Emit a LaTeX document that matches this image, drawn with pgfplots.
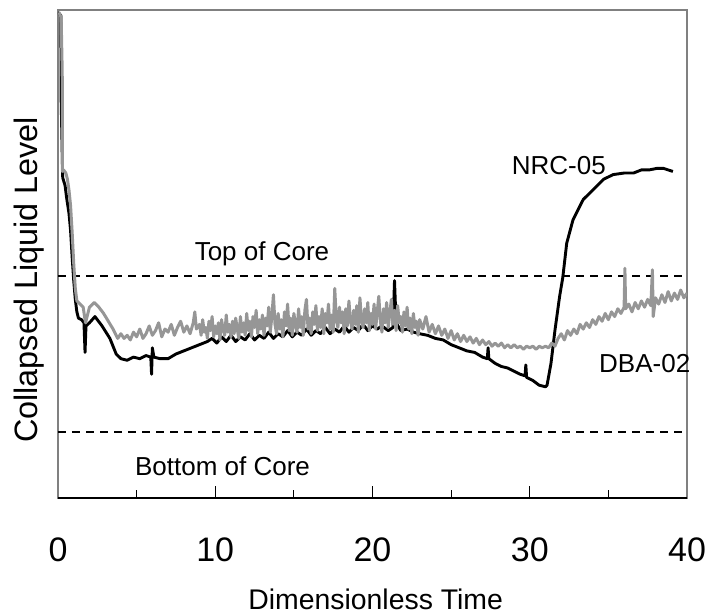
\documentclass[border=0pt]{standalone}
\usepackage{fontspec}
\setmainfont{Liberation Sans}
\usepackage{pgfplots}
\usepackage{pgfplotstable}
\pgfplotsset{compat=1.18}
\definecolor{dbagray}{RGB}{150,150,150}
\definecolor{framegray}{RGB}{128,128,128}

\pgfplotstableread{
t L
0.0 2.69
0.18 2.67
0.2 2.13
0.3 1.63
0.45 1.58
0.55 1.50
0.7 1.40
0.8 1.29
0.9 1.12
1.0 0.97
1.1 0.85
1.2 0.77
1.3 0.73
1.5 0.72
1.65 0.70
1.72 0.51
1.78 0.68
2.0 0.70
2.35 0.74
2.8 0.68
3.3 0.60
3.7 0.50
4.0 0.47
4.4 0.46
4.8 0.48
5.2 0.47
5.6 0.49
5.9 0.48
5.95 0.37
6.0 0.54
6.1 0.48
6.5 0.47
7.0 0.47
7.5 0.50
8.0 0.52
8.5 0.54
9.0 0.56
9.5 0.58
9.8 0.60
10.1 0.57
10.4 0.61
10.7 0.58
11.0 0.62
11.3 0.58
11.6 0.61
11.9 0.59
12.2 0.63
12.5 0.59
12.8 0.62
13.1 0.60
13.4 0.64
13.7 0.60
14.0 0.63
14.3 0.61
14.6 0.65
14.9 0.61
15.2 0.64
15.5 0.62
15.8 0.66
16.1 0.62
16.4 0.65
16.7 0.63
17.0 0.67
17.3 0.63
17.6 0.66
17.9 0.64
18.2 0.68
18.5 0.64
18.8 0.67
19.1 0.65
19.4 0.69
19.7 0.65
20.0 0.68
20.3 0.66
20.6 0.68
21.0 0.65
21.3 0.67
21.4 0.97
21.5 0.70
21.8 0.65
22.2 0.66
22.6 0.64
23.0 0.63
23.5 0.62
24.0 0.60
24.5 0.59
25.0 0.56
25.5 0.54
26.0 0.52
26.5 0.51
27.0 0.48
27.3 0.47
27.35 0.54
27.4 0.47
27.8 0.44
28.2 0.42
28.6 0.41
29.0 0.39
29.4 0.37
29.7 0.36
29.75 0.43
29.8 0.35
30.2 0.33
30.6 0.30
31.0 0.29
31.1 0.30
31.35 0.44
31.6 0.65
31.9 0.87
32.1 0.99
32.35 1.21
32.75 1.36
33.4 1.49
34.0 1.55
34.7 1.62
35.3 1.65
36.0 1.66
36.6 1.66
37.1 1.68
37.6 1.68
38.1 1.69
38.5 1.69
38.8 1.68
39.1 1.67
}\nrc

\pgfplotstableread{
t L
0.05 2.69
0.2 2.66
0.27 2.30
0.28 1.67
0.35 1.68
0.5 1.66
0.6 1.62
0.7 1.55
0.8 1.45
0.9 1.28
1.0 1.08
1.1 0.92
1.2 0.84
1.4 0.82
1.6 0.80
1.75 0.70
1.85 0.74
2.0 0.80
2.3 0.83
2.6 0.80
2.9 0.76
3.2 0.71
3.5 0.66
3.8 0.60
4.0 0.63
4.2 0.60
4.4 0.62
4.6 0.59
4.8 0.64
5.0 0.61
5.2 0.66
5.4 0.60
5.6 0.63
5.8 0.68
6.0 0.62
6.2 0.65
6.4 0.70
6.6 0.61
6.8 0.66
7.0 0.64
7.2 0.69
7.4 0.62
7.6 0.67
7.8 0.71
8.0 0.64
8.2 0.68
8.4 0.63
8.6 0.70
8.7 0.77
8.8 0.66
9.0 0.69
9.1 0.62
9.2 0.72
9.3 0.64
9.4 0.67
9.5 0.60
9.6 0.71
9.7 0.65
9.8 0.74
9.9 0.61
10.0 0.68
10.1 0.63
10.2 0.70
10.3 0.59
10.4 0.72
10.5 0.66
10.6 0.62
10.7 0.75
10.8 0.64
10.9 0.69
11.0 0.61
11.1 0.71
11.2 0.63
11.3 0.73
11.4 0.66
11.5 0.60
11.6 0.74
11.7 0.64
11.8 0.70
11.9 0.62
12.0 0.76
12.1 0.65
12.2 0.71
12.3 0.61
12.4 0.74
12.5 0.67
12.6 0.78
12.7 0.63
12.8 0.72
12.9 0.66
13.0 0.75
13.1 0.62
13.2 0.73
13.3 0.68
13.4 0.80
13.5 0.64
13.6 0.74
13.7 0.88
13.8 0.69
13.9 0.63
14.0 0.76
14.1 0.66
14.2 0.72
14.3 0.61
14.4 0.77
14.5 0.68
14.6 0.82
14.7 0.65
14.8 0.73
14.9 0.62
15.0 0.76
15.1 0.69
15.2 0.64
15.3 0.79
15.4 0.67
15.5 0.74
15.6 0.62
15.7 0.78
15.8 0.85
15.9 0.66
16.0 0.73
16.1 0.63
16.2 0.77
16.3 0.69
16.4 0.81
16.5 0.65
16.6 0.74
16.7 0.67
16.8 0.79
16.9 0.63
17.0 0.76
17.1 0.70
17.2 0.82
17.3 0.66
17.4 0.75
17.5 0.64
17.6 0.92
17.7 0.72
17.8 0.67
17.9 0.80
18.0 0.70
18.1 0.77
18.2 0.63
18.3 0.79
18.4 0.68
18.5 0.84
18.6 0.71
18.7 0.66
18.8 0.78
18.9 0.69
19.0 0.81
19.1 0.64
19.2 0.86
19.3 0.72
19.4 0.67
19.5 0.79
19.6 0.70
19.7 0.83
19.8 0.65
19.9 0.76
20.0 0.69
20.1 0.82
20.2 0.66
20.3 0.77
20.4 0.87
20.5 0.71
20.6 0.64
20.7 0.79
20.8 0.70
20.9 0.83
21.0 0.67
21.1 0.76
21.2 0.85
21.3 0.69
21.4 0.78
21.5 0.65
21.6 0.81
21.7 0.70
21.8 0.74
21.9 0.64
22.0 0.77
22.1 0.68
22.2 0.80
22.3 0.66
22.4 0.73
22.5 0.63
22.6 0.76
22.7 0.67
22.8 0.71
22.9 0.62
23.0 0.72
23.2 0.66
23.4 0.74
23.6 0.64
23.8 0.69
24.0 0.63
24.2 0.68
24.4 0.62
24.6 0.66
24.8 0.60
25.0 0.65
25.2 0.59
25.4 0.63
25.6 0.58
25.8 0.62
26.0 0.58
26.2 0.61
26.4 0.57
26.6 0.60
26.8 0.56
27.0 0.59
27.2 0.56
27.4 0.58
27.6 0.55
27.8 0.57
28.0 0.55
28.2 0.57
28.4 0.54
28.6 0.56
28.8 0.54
29.0 0.56
29.2 0.54
29.4 0.55
29.6 0.53
29.8 0.55
30.0 0.54
30.2 0.55
30.4 0.53
30.6 0.55
30.8 0.54
31.0 0.55
31.2 0.54
31.4 0.57
31.6 0.55
31.8 0.60
32.0 0.63
32.2 0.59
32.4 0.65
32.6 0.62
32.8 0.66
33.0 0.63
33.2 0.69
33.4 0.66
33.6 0.70
33.8 0.67
34.0 0.72
34.2 0.69
34.4 0.74
34.6 0.71
34.8 0.76
35.0 0.72
35.2 0.77
35.4 0.74
35.6 0.79
35.8 0.76
36.0 0.80
36.05 1.05
36.1 0.79
36.3 0.82
36.5 0.77
36.7 0.83
36.9 0.79
37.1 0.84
37.3 0.80
37.5 0.85
37.7 0.81
37.8 1.04
37.85 0.74
38.0 0.86
38.2 0.82
38.4 0.88
38.6 0.83
38.8 0.90
39.0 0.84
39.2 0.89
39.4 0.85
39.6 0.91
39.8 0.86
40.0 0.89
}\dba

\begin{document}
\begin{tikzpicture}
\begin{axis}[
  scale only axis,
  width=314.5pt, height=244pt,
  xmin=0, xmax=40, ymin=-0.423, ymax=2.705,
  xtick={0,10,20,30,40},
  minor xtick={5,15,25,35},
  ytick=\empty,
  xtick pos=left,
  tick align=inside,
  major tick length=6pt,
  minor tick length=4pt,
  every tick/.style={black, line width=0.6pt},
  axis line style={draw=framegray, line width=1.1pt},
  /pgf/number format/assume math mode=true,
  xticklabel style={font=\fontsize{17}{17}\selectfont, anchor=center, yshift=-26pt, inner sep=0pt},
  xlabel={Dimensionless Time},
  xlabel style={at={(axis description cs:0.505,0)}, anchor=center, yshift=-50.5pt, font=\fontsize{14.2}{14.2}\selectfont, inner sep=0pt},
  ylabel={Collapsed Liquid Level},
  ylabel style={at={(axis description cs:-0.0453,0.447)}, anchor=center, font=\fontsize{16.2}{16.2}\selectfont, inner sep=0pt},
  clip mode=individual,
]
\addplot[black, line width=1pt, dash pattern=on 4pt off 3pt, forget plot] coordinates {(0,1) (40,1)};
\addplot[black, line width=1pt, dash pattern=on 4pt off 3pt, forget plot] coordinates {(0,0) (40,0)};
\addplot[black, line width=1.45pt, line join=round] table[x=t,y=L] {\nrc};
\addplot[dbagray, line width=1.5pt, line join=round] table[x=t,y=L] {\dba};
\draw[black, line width=1pt] (rel axis cs:0,0) -- (rel axis cs:1,0);
\node[font=\fontsize{13}{13}\selectfont, anchor=center, inner sep=0pt] at (axis cs:12.97,1.14) {Top of Core};
\node[font=\fontsize{13}{13}\selectfont, anchor=center, inner sep=0pt] at (axis cs:10.46,-0.218) {Bottom of Core};
\node[font=\fontsize{13}{13}\selectfont, anchor=center, inner sep=0pt] at (axis cs:31.85,1.71) {NRC-05};
\node[font=\fontsize{13}{13}\selectfont, anchor=center, inner sep=0pt] at (axis cs:37.31,0.44) {DBA-02};
\coordinate (SW) at (rel axis cs:0,0);
\coordinate (NE) at (rel axis cs:1,1);
\end{axis}
\path (SW) ++(-29pt,-58.5pt) coordinate (A);
\path (NE) ++(11pt,5pt) coordinate (B);
\pgfresetboundingbox
\path (A) rectangle (B);
\end{tikzpicture}
\end{document}
